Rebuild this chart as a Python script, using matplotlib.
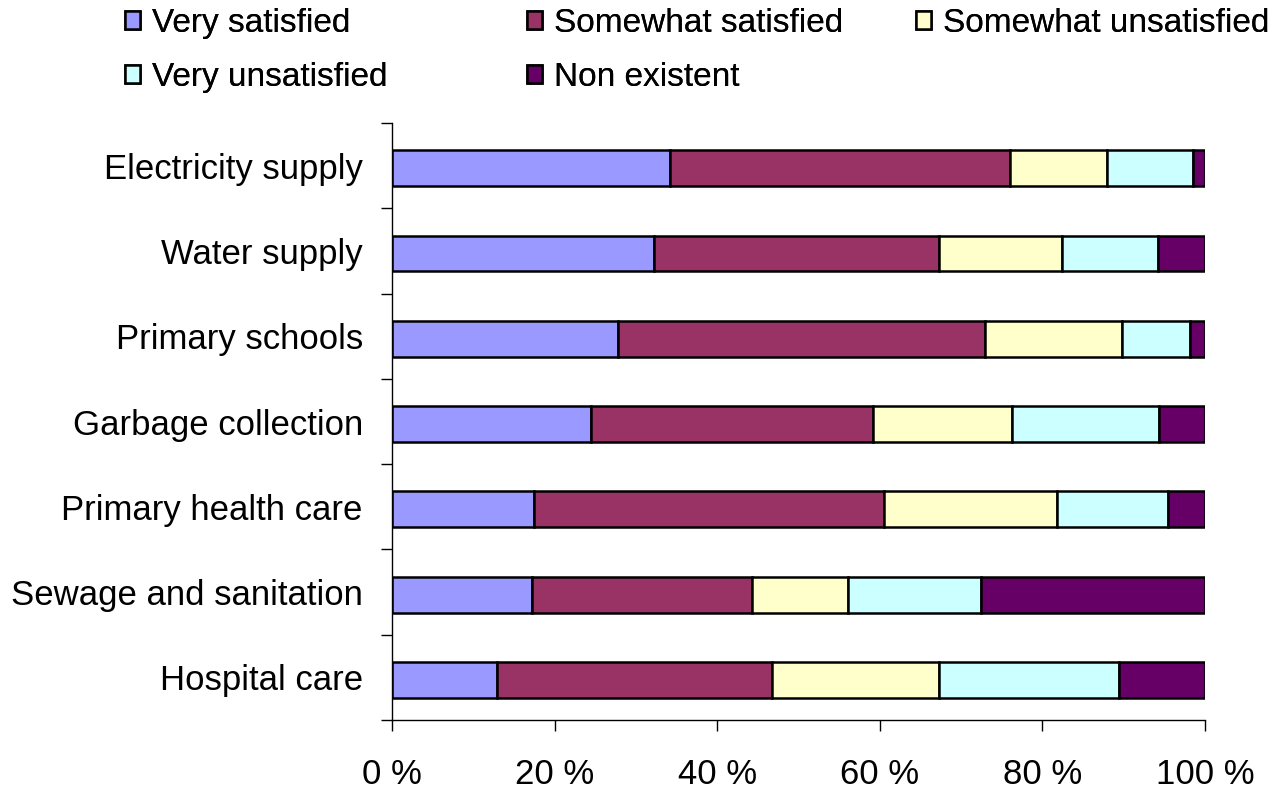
import matplotlib.pyplot as plt
import numpy as np

plt.rcParams['font.family'] = ['Liberation Sans', 'DejaVu Sans']

# categories, listed top to bottom
services = ['Electricity supply', 'Water supply', 'Primary schools',
            'Garbage collection', 'Primary health care',
            'Sewage and sanitation', 'Hospital care']

# shares in %
very_sat = [34.2, 32.2, 27.8, 24.5, 17.5, 17.2, 12.9]
somewhat_sat = [41.8, 35.1, 45.1, 34.7, 43.0, 27.1, 33.8]
somewhat_unsat = [11.9, 15.1, 16.9, 17.1, 21.3, 11.8, 20.6]
very_unsat = [10.6, 11.8, 8.4, 18.0, 13.6, 16.3, 22.1]
non_existent = [1.5, 5.8, 1.8, 5.7, 4.6, 27.6, 10.6]

series = [very_sat, somewhat_sat, somewhat_unsat, very_unsat, non_existent]
names = ['Very satisfied', 'Somewhat satisfied', 'Somewhat unsatisfied',
         'Very unsatisfied', 'Non existent']
colors = ['#9999FF', '#993366', '#FFFFCC', '#CCFFFF', '#660066']

FS = 25

fig = plt.figure(figsize=(12.76, 7.92), dpi=100)
ax = fig.add_axes([392/1276, 1-720/792, (1205-392)/1276, (720-123)/792])

y = np.arange(len(services))[::-1]
left = np.zeros(len(services))
handles = []
for vals, nm, col in zip(series, names, colors):
    b = ax.barh(y - 0.03, vals, left=left, height=0.42, color=col,
                edgecolor='black', linewidth=1.8, label=nm)
    handles.append(b)
    left += np.array(vals)

ax.set_xlim(0, 100)
ax.set_ylim(-0.5, len(services) - 0.5)
ax.set_yticks(y)
ax.set_yticklabels(services, fontsize=FS)
ax.set_yticks(np.arange(len(services) + 1) - 0.5, minor=True)
ax.tick_params(axis='y', which='major', length=0, pad=21)
ax.tick_params(axis='y', which='minor', length=8, width=1, direction='out')
ax.set_xticks([0, 20, 40, 60, 80, 100])
ax.set_xticklabels(['0 %', '20 %', '40 %', '60 %', '80 %', '100 %'], fontsize=FS)
ax.tick_params(axis='x', length=8, width=1, direction='out', pad=19)

ax.spines['top'].set_visible(False)
ax.spines['right'].set_visible(False)
ax.spines['left'].set_linewidth(1)
ax.spines['bottom'].set_linewidth(1)

# legend laid out row by row in three columns
cols = [[0, 3], [1, 4], [2]]
col_x = [125, 527, 916]
for idx, cx in zip(cols, col_x):
    leg = fig.legend(handles=[handles[i] for i in idx],
                     labels=[names[i] for i in idx],
                     loc='upper left', bbox_to_anchor=(cx/1276, 1 - 8/792),
                     frameon=False, fontsize=24, handlelength=0.45,
                     handleheight=0.45, handletextpad=0.35,
                     labelspacing=0.68, borderpad=0, borderaxespad=0)
    fig.add_artist(leg)

fig.savefig('out.png', dpi=100)
